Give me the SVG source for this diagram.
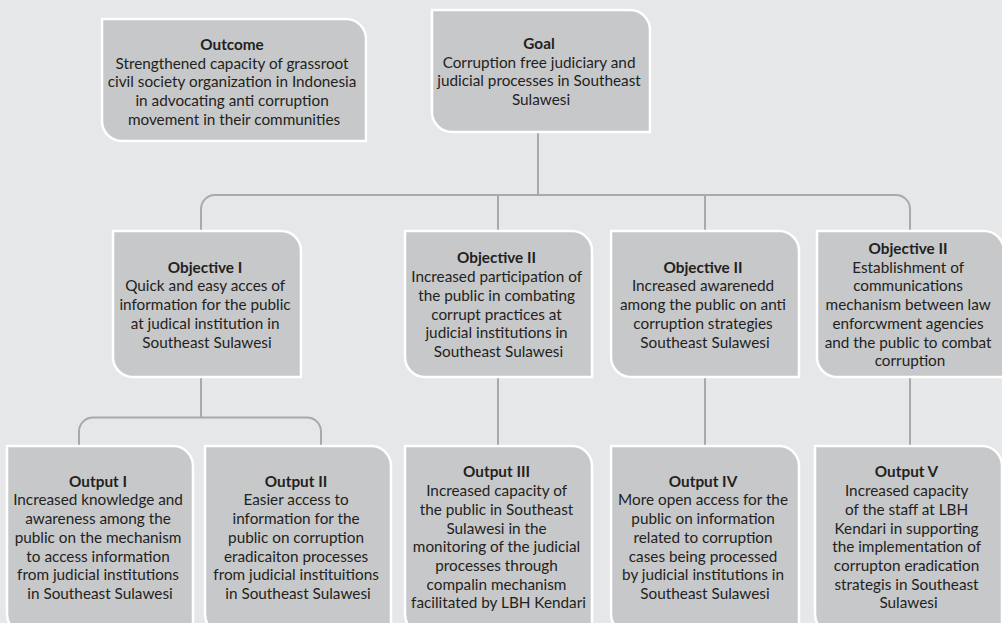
<svg xmlns="http://www.w3.org/2000/svg" width="1002" height="623" viewBox="0 0 1002 623">
  <style>
    .bg { fill: #e6e7e8; }
    .box { fill: #c7c8ca; stroke: #ffffff; stroke-width: 2.5; }
    .link { fill: none; stroke: #a7a9ac; stroke-width: 2; }
    text { font-family: Lato, "Liberation Sans", sans-serif; font-size: 15.3px; fill: #231f20; text-anchor: middle; }
    .t { font-weight: bold; }
  </style>

  <rect class="bg" x="0" y="0" width="1002" height="623"/>

  <!-- connectors -->
  <g id="connectors">
    <path class="link" d="M538 132 V195"/>
    <path class="link" d="M201 231 V209 A14 14 0 0 1 215 195 H896 A14 14 0 0 1 910 209 V231"/>
    <path class="link" d="M498 195 V231"/>
    <path class="link" d="M705 195 V231"/>
    <path class="link" d="M201 377 V417.5"/>
    <path class="link" d="M79 446 V431.5 A14 14 0 0 1 93 417.5 H307 A14 14 0 0 1 321 431.5 V446"/>
    <path class="link" d="M498 377 V446"/>
    <path class="link" d="M705 377 V446"/>
    <path class="link" d="M910 377 V446"/>
  </g>

  <!-- top row -->
  <g id="outcome">
    <path class="box" d="M102 19 H346 A20 20 0 0 1 366 39 V141 H122 A20 20 0 0 1 102 121 Z"/>
    <text x="234" y="50"><tspan class="t">Outcome</tspan>
      <tspan x="234" y="68.7">Strengthened capacity of grassroot</tspan>
      <tspan x="234" y="87.4">civil society organization in Indonesia</tspan>
      <tspan x="234" y="106.1">in advocating anti corruption</tspan>
      <tspan x="234" y="124.8">movement in their communities</tspan></text>
  </g>

  <g id="goal">
    <path class="box" d="M432 10 H630 A20 20 0 0 1 650 30 V132 H452 A20 20 0 0 1 432 112 Z"/>
    <text x="541" y="49"><tspan class="t">Goal</tspan>
      <tspan x="541" y="67.7">Corruption free judiciary and</tspan>
      <tspan x="541" y="86.4">judicial processes in Southeast</tspan>
      <tspan x="541" y="105.1">Sulawesi</tspan></text>
  </g>

  <!-- objectives -->
  <g id="objective-1">
    <path class="box" d="M113 231 H281 A20 20 0 0 1 301 251 V377 H133 A20 20 0 0 1 113 357 Z"/>
    <text x="207" y="272.7"><tspan class="t">Objective I</tspan>
      <tspan x="207" y="291.4">Quick and easy acces of</tspan>
      <tspan x="207" y="310.1">information for the public</tspan>
      <tspan x="207" y="328.8">at judical institution in</tspan>
      <tspan x="207" y="347.5">Southeast Sulawesi</tspan></text>
  </g>

  <g id="objective-2">
    <path class="box" d="M405 231 H572 A20 20 0 0 1 592 251 V377 H425 A20 20 0 0 1 405 357 Z"/>
    <text x="498.5" y="263.4"><tspan class="t">Objective II</tspan>
      <tspan x="498.5" y="282.1">Increased participation of</tspan>
      <tspan x="498.5" y="300.8">the public in combating</tspan>
      <tspan x="498.5" y="319.5">corrupt practices at</tspan>
      <tspan x="498.5" y="338.2">judicial institutions in</tspan>
      <tspan x="498.5" y="356.9">Southeast Sulawesi</tspan></text>
  </g>

  <g id="objective-3">
    <path class="box" d="M611 231 H779 A20 20 0 0 1 799 251 V377 H631 A20 20 0 0 1 611 357 Z"/>
    <text x="705" y="272.7"><tspan class="t">Objective II</tspan>
      <tspan x="705" y="291.4">Increased awarenedd</tspan>
      <tspan x="705" y="310.1">among the public on anti</tspan>
      <tspan x="705" y="328.8">corruption strategies</tspan>
      <tspan x="705" y="347.5">Southeast Sulawesi</tspan></text>
  </g>

  <g id="objective-4">
    <path class="box" d="M817 231 H984 A20 20 0 0 1 1004 251 V377 H837 A20 20 0 0 1 817 357 Z"/>
    <text x="910" y="254"><tspan class="t">Objective II</tspan>
      <tspan x="910" y="272.7">Establishment of</tspan>
      <tspan x="910" y="291.4">communications</tspan>
      <tspan x="910" y="310.1">mechanism between law</tspan>
      <tspan x="910" y="328.8">enforcwment agencies</tspan>
      <tspan x="910" y="347.5">and the public to combat</tspan>
      <tspan x="910" y="366.2">corruption</tspan></text>
  </g>

  <!-- outputs -->
  <g id="output-1">
    <path class="box" d="M7 446 H173 A20 20 0 0 1 193 466 V634 H27 A20 20 0 0 1 7 614 Z"/>
    <text x="100" y="486.7"><tspan class="t">Output I</tspan>
      <tspan x="100" y="505.4">Increased knowledge and</tspan>
      <tspan x="100" y="524.1">awareness among the</tspan>
      <tspan x="100" y="542.8">public on the mechanism</tspan>
      <tspan x="100" y="561.5">to access information</tspan>
      <tspan x="100" y="580.2">from judicial institutions</tspan>
      <tspan x="100" y="598.9">in Southeast Sulawesi</tspan></text>
  </g>

  <g id="output-2">
    <path class="box" d="M205 446 H371 A20 20 0 0 1 391 466 V634 H225 A20 20 0 0 1 205 614 Z"/>
    <text x="298" y="486.7"><tspan class="t">Output II</tspan>
      <tspan x="298" y="505.4">Easier access to</tspan>
      <tspan x="298" y="524.1">information for the</tspan>
      <tspan x="298" y="542.8">public on corruption</tspan>
      <tspan x="298" y="561.5">eradicaiton processes</tspan>
      <tspan x="298" y="580.2">from judicial instituitions</tspan>
      <tspan x="298" y="598.9">in Southeast Sulawesi</tspan></text>
  </g>

  <g id="output-3">
    <path class="box" d="M405 446 H572 A20 20 0 0 1 592 466 V634 H425 A20 20 0 0 1 405 614 Z"/>
    <text x="498.5" y="477.4"><tspan class="t">Output III</tspan>
      <tspan x="498.5" y="496.1">Increased capacity of</tspan>
      <tspan x="498.5" y="514.8">the public in Southeast</tspan>
      <tspan x="498.5" y="533.5">Sulawesi in the</tspan>
      <tspan x="498.5" y="552.2">monitoring of the judicial</tspan>
      <tspan x="498.5" y="570.9">processes through</tspan>
      <tspan x="498.5" y="589.6">compalin mechanism</tspan>
      <tspan x="498.5" y="608.3">facilitated by LBH Kendari</tspan></text>
  </g>

  <g id="output-4">
    <path class="box" d="M611 446 H779 A20 20 0 0 1 799 466 V634 H631 A20 20 0 0 1 611 614 Z"/>
    <text x="705" y="486.7"><tspan class="t">Output IV</tspan>
      <tspan x="705" y="505.4">More open access for the</tspan>
      <tspan x="705" y="524.1">public on information</tspan>
      <tspan x="705" y="542.8">related to corruption</tspan>
      <tspan x="705" y="561.5">cases being processed</tspan>
      <tspan x="705" y="580.2">by judicial institutions in</tspan>
      <tspan x="705" y="598.9">Southeast Sulawesi</tspan></text>
  </g>

  <g id="output-5">
    <path class="box" d="M815 446 H982 A20 20 0 0 1 1002 466 V634 H835 A20 20 0 0 1 815 614 Z"/>
    <text x="908.5" y="477.4"><tspan class="t">Output V</tspan>
      <tspan x="908.5" y="496.1">Increased capacity</tspan>
      <tspan x="908.5" y="514.8">of the staff at LBH</tspan>
      <tspan x="908.5" y="533.5">Kendari in supporting</tspan>
      <tspan x="908.5" y="552.2">the implementation of</tspan>
      <tspan x="908.5" y="570.9">corrupton eradication</tspan>
      <tspan x="908.5" y="589.6">strategis in Southeast</tspan>
      <tspan x="908.5" y="608.3">Sulawesi</tspan></text>
  </g>
</svg>
